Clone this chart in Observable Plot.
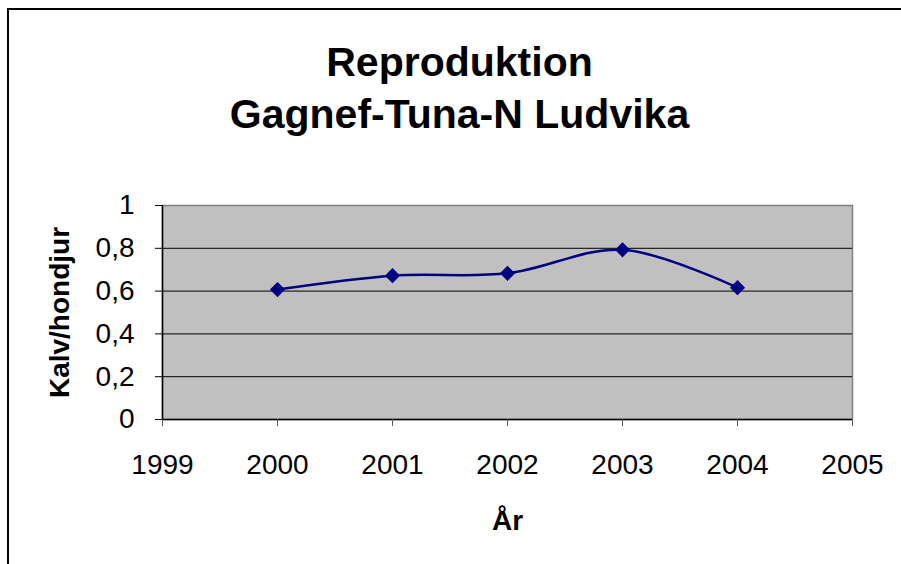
<!DOCTYPE html>
<html>
<head>
<meta charset="utf-8">
<script src="https://cdn.jsdelivr.net/npm/d3@7"></script>
<script src="https://cdn.jsdelivr.net/npm/@observablehq/plot@0.6"></script>
<style>
  html, body { margin: 0; padding: 0; background: #fff; overflow: hidden; }
  #border { position: absolute; left: 7px; top: 8px; width: 1200px; height: 1200px; border: 2px solid #000; box-sizing: border-box; }
  #chart { position: absolute; left: 0; top: 0; }
</style>
</head>
<body>
<div id="border"></div>
<div id="chart"></div>
<script>
const years = [2000, 2001, 2002, 2003, 2004];
const kalvPerHondjur = [0.607, 0.672, 0.683, 0.793, 0.616];
const xTicks = [1999, 2000, 2001, 2002, 2003, 2004, 2005];
const yTicks = [0, 0.2, 0.4, 0.6, 0.8, 1];
const yTickLabels = ["0", "0,2", "0,4", "0,6", "0,8", "1"];
const titleLines = ["Reproduktion", "Gagnef-Tuna-N Ludvika"];
const xTitle = "År";
const yTitle = "Kalv/hondjur";

const data = years.map((y, i) => ({year: y, value: kalvPerHondjur[i]}));
const font = "'Liberation Sans', Arial, sans-serif";

const chart = Plot.plot({
  width: 901,
  height: 564,
  marginLeft: 162,
  marginRight: 49,
  marginTop: 205,
  marginBottom: 145,
  style: {fontFamily: font, background: "transparent", overflow: "visible", color: "#000"},
  x: {domain: [1999, 2005]},
  y: {domain: [0, 1]},
  marks: [
    Plot.frame({fill: "#C0C0C0", stroke: "#808080", strokeWidth: 1.5}),
    Plot.gridY([0.2, 0.4, 0.6, 0.8], {stroke: "#000", strokeOpacity: 1, strokeWidth: 1}),
    Plot.ruleY([0], {stroke: "#000", strokeWidth: 1.5}),
    Plot.ruleX([1999], {stroke: "#000", strokeWidth: 1.5}),
    Plot.axisX({ticks: xTicks, tickFormat: d => String(d), tickSize: 7, tickPadding: 28, fontSize: 28, label: null, stroke: "#555"}),
    Plot.axisY({ticks: yTicks, tickFormat: d => yTickLabels[yTicks.indexOf(d)], tickSize: 7, tickPadding: 21, fontSize: 28, label: null, stroke: "#000"}),
    Plot.line(data, {x: "year", y: "value", stroke: "#000080", strokeWidth: 2.5, curve: "catmull-rom"}),
    Plot.dot(data, {x: "year", y: "value", symbol: "diamond2", r: 5.9, fill: "#000080", stroke: "#000080"}),
    Plot.text([titleLines[0]], {text: d => d, frameAnchor: "top", dx: -48, dy: -130, lineAnchor: "bottom", fontSize: 41, fontWeight: "bold", fill: "#000"}),
    Plot.text([titleLines[1]], {text: d => d, frameAnchor: "top", dx: -48, dy: -78, lineAnchor: "bottom", fontSize: 41, fontWeight: "bold", fill: "#000"}),
    Plot.text([xTitle], {text: d => d, frameAnchor: "bottom", dy: 110, lineAnchor: "bottom", fontSize: 28, fontWeight: "bold", fill: "#000"}),
    Plot.text([yTitle], {text: d => d, frameAnchor: "left", textAnchor: "middle", dx: -94, rotate: -90, lineAnchor: "bottom", fontSize: 28, fontWeight: "bold", fill: "#000"})
  ]
});
document.getElementById("chart").appendChild(chart);
</script>
</body>
</html>
